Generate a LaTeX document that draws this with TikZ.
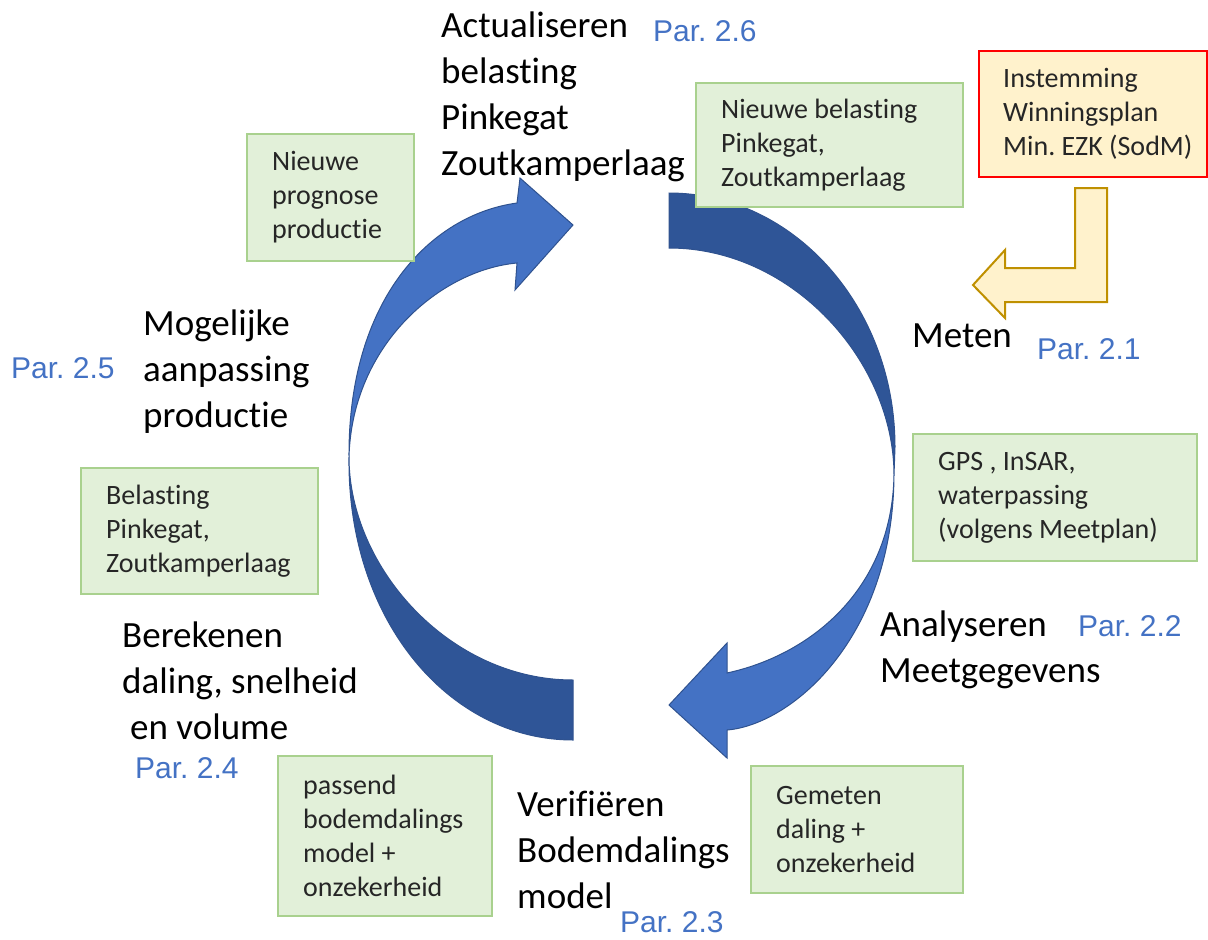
\documentclass[tikz,border=0pt]{standalone}
\usepackage{fontspec}
\setmainfont{Carlito}[Ligatures=NoCommon]
\newfontfamily\parfont{Liberation Sans}
\usetikzlibrary{positioning}

\definecolor{lichtblauw}{HTML}{4472C4}
\definecolor{donkerblauw}{HTML}{2F5597}
\definecolor{randblauw}{HTML}{2F528F}
\definecolor{groenvlak}{HTML}{E2F0D9}
\definecolor{groenrand}{HTML}{A9D18E}
\definecolor{geelvlak}{HTML}{FFF2CC}
\definecolor{goudrand}{HTML}{BF9000}
\definecolor{parblauw}{HTML}{4472C4}

\tikzset{
  groenblok/.style={draw=groenrand, fill=groenvlak, line width=2pt, anchor=north west},
  roodblok/.style={draw=red, fill=geelvlak, line width=2pt, anchor=north west},
  bloktekst/.style={anchor=west, align=left, inner sep=0pt, text=black!85,
    font=\fontsize{28}{34}\selectfont},
  staptekst/.style={anchor=west, align=left, inner sep=0pt, text=black,
    font=\fontsize{37}{46}\selectfont},
  partekst/.style={anchor=west, inner sep=0pt, text=parblauw,
    font=\parfont\fontsize{30}{34}\selectfont},
  pijlrand/.style={draw=randblauw, line width=1pt},
}

\begin{document}
\hyphenpenalty=10000
\frenchspacing
\begin{tikzpicture}[x=1pt, y=-1pt]
  \useasboundingbox (0,0) rectangle (1208,940);

  % linker pijl: staart onder, kop boven
  \filldraw[pijlrand, fill=donkerblauw] (349,457) .. controls (347,620) and (449,740) .. (573,740)
    -- (573,680) .. controls (449,680) and (349,567) .. (349,457) -- cycle;
  \filldraw[pijlrand, fill=lichtblauw] (349,457) .. controls (348,300) and (430,215) .. (517,203)
    -- (520,178) -- (573,225) -- (515,290) -- (517,263)
    .. controls (440,270) and (352,345) .. (349,457) -- cycle;

  % rechter pijl: staart boven, kop onder
  \filldraw[pijlrand, fill=donkerblauw] (669,193) .. controls (794,193) and (895,307) .. (895,447)
    -- (894,475) .. controls (894,362) and (793,248) .. (669,248) -- cycle;
  \filldraw[pijlrand, fill=lichtblauw] (894,475) .. controls (893,640) and (790,725) .. (727,730)
    -- (727,758) -- (669,705) -- (727,643) -- (727,673)
    .. controls (810,655) and (892,590) .. (894,475) -- cycle;

  % gele knikpijl
  \filldraw[draw=goudrand, fill=geelvlak, line width=2pt] (1075,188) -- (1107,188) -- (1107,302)
    -- (1005,302) -- (1005,318) -- (973,285) -- (1005,250) -- (1005,268) -- (1075,268) -- cycle;

  % blokken
  \node[groenblok, minimum width=167, minimum height=127] (prognosebox) at (246,133) {};
  \node[bloktekst] (prognose) at ([xshift=26pt]prognosebox.west) {Nieuwe\\prognose\\productie};

  \node[groenblok, minimum width=267, minimum height=124] (nieuwbox) at (695,82) {};
  \node[bloktekst] (nieuw) at ([xshift=26pt]nieuwbox.west) {Nieuwe belasting\\Pinkegat,\\Zoutkamperlaag};

  \node[roodblok, minimum width=228, minimum height=126] (instemmingbox) at (978,50) {};
  \node[bloktekst] (instemming) at ([xshift=25pt]instemmingbox.west) {Instemming\\Winningsplan\\Min. EZK (SodM)};

  \node[groenblok, minimum width=284, minimum height=127] (metingbox) at (912,433) {};
  \node[bloktekst] (meting) at ([xshift=26pt]metingbox.west) {GPS , InSAR,\\waterpassing\\(volgens Meetplan)};

  \node[groenblok, minimum width=212, minimum height=127] (gemetenbox) at (750,765) {};
  \node[bloktekst] (gemeten) at ([xshift=26pt]gemetenbox.west) {Gemeten\\daling +\\onzekerheid};

  \node[groenblok, minimum width=214, minimum height=160] (modelbox) at (277,755) {};
  \node[bloktekst] (model) at ([xshift=26pt]modelbox.west) {passend\\bodemdalings\\model +\\onzekerheid};

  \node[groenblok, minimum width=237, minimum height=126] (belastingbox) at (80,467) {};
  \node[bloktekst] (belasting) at ([xshift=26pt]belastingbox.west) {Belasting\\Pinkegat,\\Zoutkamperlaag};

  % stappen
  \node[staptekst] (actualiseren) at (441,97) {Actualiseren\\belasting\\Pinkegat\\Zoutkamperlaag};
  \node[staptekst] (meten) at (912,336) {Meten};
  \node[staptekst] (analyseren) at (880,650) {Analyseren\\Meetgegevens};
  \node[staptekst] (verifieren) at (517,850) {Verifiëren\\Bodemdalings\\model};
  \node[staptekst] (berekenen) at (122,681) {Berekenen\\daling, snelheid\\\hspace*{8pt}en volume};
  \node[staptekst] (aanpassing) at (143,372) {Mogelijke\\aanpassing\\productie};

  % paragrafen
  \node[partekst] (par26) at (653,31) {Par. 2.6};
  \node[partekst] (par21) at (1037,349) {Par. 2.1};
  \node[partekst] (par22) at (1078,626) {Par. 2.2};
  \node[partekst] (par23) at (620,922) {Par. 2.3};
  \node[partekst] (par24) at (135,768) {Par. 2.4};
  \node[partekst] (par25) at (11,368) {Par. 2.5};
\end{tikzpicture}
\end{document}
